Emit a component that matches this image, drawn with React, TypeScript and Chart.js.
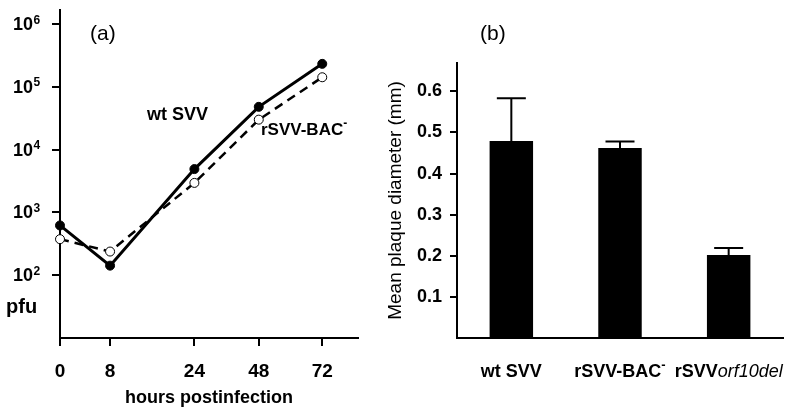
import React, { useEffect, useRef } from 'react';
import { Chart, registerables } from 'chart.js';

Chart.register(...registerables);

// ---------- data ----------
const hours = [0, 8, 24, 48, 72];
const wtSVV = [620, 142, 4900, 48000, 232000];
const rSVVBAC = [375, 238, 2950, 30000, 142000];
const decadeTicks = [1e2, 1e3, 1e4, 1e5, 1e6];

const strains = ['wt SVV', 'rSVV-BAC-', 'rSVVorf10del'];
const plaqueMean = [0.479, 0.462, 0.202];
const plaqueErr = [0.104, 0.016, 0.017];
const plaqueTicks = [0.1, 0.2, 0.3, 0.4, 0.5, 0.6];

// ---------- styling ----------
const FONT = '"Liberation Sans", Arial, Helvetica, sans-serif';

// The original figure spaces its time axis unevenly; these stops describe that axis warp.
const HOUR_STOPS = [0, 8, 24, 48, 72, 85.5];
const AXIS_STOPS = [0, 0.168, 0.451, 0.667, 0.88, 1];

function warpHours(h: number): number {
  for (let i = 0; i < HOUR_STOPS.length - 1; i++) {
    const a = HOUR_STOPS[i];
    const b = HOUR_STOPS[i + 1];
    if (h <= b || i === HOUR_STOPS.length - 2) {
      const t = (h - a) / (b - a);
      return AXIS_STOPS[i] + t * (AXIS_STOPS[i + 1] - AXIS_STOPS[i]);
    }
  }
  return 0;
}

type Part = { text: string; style: 'bold' | 'italic' | 'normal' | 'sup' };

const strainLabelParts: Part[][] = [
  [{ text: 'wt SVV', style: 'bold' }],
  [
    { text: 'rSVV-BAC', style: 'bold' },
    { text: '-', style: 'sup' },
  ],
  [
    { text: 'rSVV', style: 'bold' },
    { text: 'orf10del', style: 'italic' },
  ],
];

function partFont(style: Part['style'], size: number) {
  if (style === 'bold') return `bold ${size}px ${FONT}`;
  if (style === 'italic') return `italic ${size}px ${FONT}`;
  if (style === 'normal') return `${size}px ${FONT}`;
  return `bold ${Math.round(size * 0.7)}px ${FONT}`;
}

function drawParts(
  ctx: CanvasRenderingContext2D,
  parts: Part[],
  x: number,
  y: number,
  size: number,
  align: 'left' | 'center'
) {
  ctx.save();
  ctx.textBaseline = 'alphabetic';
  ctx.textAlign = 'left';
  ctx.fillStyle = '#000';
  const widths = parts.map((p) => {
    ctx.font = partFont(p.style, size);
    return ctx.measureText(p.text).width;
  });
  const total = widths.reduce((a, b) => a + b, 0);
  let cx = align === 'center' ? x - total / 2 : x;
  parts.forEach((p, i) => {
    ctx.font = partFont(p.style, size);
    ctx.fillText(p.text, cx, p.style === 'sup' ? y - size * 0.45 : y);
    cx += widths[i];
  });
  ctx.restore();
}

export default function App() {
  const refA = useRef<HTMLCanvasElement | null>(null);
  const refB = useRef<HTMLCanvasElement | null>(null);

  useEffect(() => {
    const canvasA = refA.current!;
    const canvasB = refB.current!;

    // ---------- panel (a) ----------
    const panelALabels = {
      id: 'panelALabels',
      afterDraw(chart: any) {
        const ctx: CanvasRenderingContext2D = chart.ctx;
        const y = chart.scales.y;
        ctx.save();
        ctx.fillStyle = '#000';
        decadeTicks.forEach((v) => {
          const py = y.getPixelForValue(v);
          const exp = Math.round(Math.log10(v));
          ctx.font = `bold 18px ${FONT}`;
          ctx.textAlign = 'right';
          ctx.textBaseline = 'alphabetic';
          ctx.fillText('10', 33, py + 6);
          ctx.font = `bold 12px ${FONT}`;
          ctx.textAlign = 'left';
          ctx.fillText(String(exp), 33.5, py - 0.5);
        });
        ctx.font = `bold 20px ${FONT}`;
        ctx.textAlign = 'left';
        ctx.fillText('pfu', 6, 313);
        ctx.font = `21px ${FONT}`;
        ctx.fillText('(a)', 90, 39.5);
        ctx.restore();
        drawParts(ctx, [{ text: 'wt SVV', style: 'bold' }], 147, 119.5, 18, 'left');
        drawParts(ctx, strainLabelParts[1], 261, 135, 17, 'left');
      },
    };

    const chartA = new Chart(canvasA, {
      type: 'line',
      data: {
        datasets: [
          {
            label: 'wt SVV',
            data: hours.map((h, i) => ({ x: h, y: wtSVV[i] })),
            borderColor: '#000',
            borderWidth: 3,
            pointRadius: 4.5,
            pointBackgroundColor: '#000',
            pointBorderColor: '#000',
            pointBorderWidth: 1,
            tension: 0,
            clip: false as any,
          },
          {
            label: 'rSVV-BAC-',
            data: hours.map((h, i) => ({ x: h, y: rSVVBAC[i] })),
            borderColor: '#000',
            borderWidth: 2.5,
            borderDash: [9, 6],
            pointRadius: 4.5,
            pointBackgroundColor: '#fff',
            pointBorderColor: '#000',
            pointBorderWidth: 1,
            tension: 0,
            clip: false as any,
          },
        ],
      },
      options: {
        animation: false,
        responsive: false,
        maintainAspectRatio: false,
        events: [],
        layout: { padding: { left: 0, right: 22, top: 6, bottom: 0 } },
        plugins: { legend: { display: false }, tooltip: { enabled: false } },
        scales: {
          x: {
            type: 'linear',
            min: 0,
            max: HOUR_STOPS[HOUR_STOPS.length - 1],
            border: { display: true, color: '#000', width: 2 },
            grid: {
              display: true,
              drawOnChartArea: false,
              drawTicks: true,
              tickLength: 8,
              color: '#000',
              lineWidth: 2,
            },
            ticks: {
              autoSkip: false,
              color: '#000',
              padding: 14,
              maxRotation: 0,
              font: { family: FONT, size: 19, weight: 'bold' },
              callback: (v: any) => String(v),
            },
            title: {
              display: true,
              text: 'hours postinfection',
              color: '#000',
              font: { family: FONT, size: 18, weight: 'bold' },
              padding: { top: 0, bottom: 6 },
            },
            afterBuildTicks: (s: any) => {
              s.ticks = hours.map((v) => ({ value: v }));
              s.getPixelForValue = (v: number) => s.getPixelForDecimal(warpHours(v));
            },
            afterFit: (s: any) => {
              s.height = 77;
            },
          } as any,
          y: {
            type: 'logarithmic',
            min: 10,
            max: 1.66e6,
            border: { display: true, color: '#000', width: 2 },
            grid: {
              display: true,
              drawOnChartArea: false,
              drawTicks: true,
              tickLength: 8,
              color: '#000',
              lineWidth: 2,
            },
            ticks: { autoSkip: false, callback: () => '' },
            afterBuildTicks: (s: any) => {
              s.ticks = decadeTicks.map((v) => ({ value: v }));
            },
            afterFit: (s: any) => {
              s.width = 60;
            },
          } as any,
        },
      },
      plugins: [panelALabels],
    });

    // ---------- panel (b) ----------
    const panelBExtras = {
      id: 'panelBExtras',
      afterDatasetsDraw(chart: any) {
        const ctx: CanvasRenderingContext2D = chart.ctx;
        const xs = chart.scales.x;
        const ys = chart.scales.y;
        ctx.save();
        ctx.strokeStyle = '#000';
        ctx.lineWidth = 2;
        plaqueMean.forEach((m, i) => {
          const px = xs.getPixelForValue(i);
          const yb = ys.getPixelForValue(m);
          const yt = ys.getPixelForValue(m + plaqueErr[i]);
          ctx.beginPath();
          ctx.moveTo(px, yb);
          ctx.lineTo(px, yt);
          ctx.moveTo(px - 14.5, yt);
          ctx.lineTo(px + 14.5, yt);
          ctx.stroke();
        });
        ctx.restore();
      },
      afterDraw(chart: any) {
        const ctx: CanvasRenderingContext2D = chart.ctx;
        const xs = chart.scales.x;
        strains.forEach((_, i) => {
          drawParts(ctx, strainLabelParts[i], xs.getPixelForValue(i), 377, 18, 'center');
        });
        ctx.save();
        ctx.fillStyle = '#000';
        ctx.font = `21px ${FONT}`;
        ctx.textAlign = 'left';
        ctx.textBaseline = 'alphabetic';
        ctx.fillText('(b)', 100, 39.5);
        ctx.restore();
      },
    };

    const chartB = new Chart(canvasB, {
      type: 'bar',
      data: {
        labels: strains,
        datasets: [
          {
            data: plaqueMean,
            backgroundColor: '#000',
            borderWidth: 0,
            barPercentage: 0.4,
            categoryPercentage: 1,
          },
        ],
      },
      options: {
        animation: false,
        responsive: false,
        maintainAspectRatio: false,
        events: [],
        layout: { padding: { left: 0, right: 17, top: 63, bottom: 0 } },
        plugins: { legend: { display: false }, tooltip: { enabled: false } },
        scales: {
          x: {
            type: 'category',
            offset: true,
            border: { display: true, color: '#000', width: 2 },
            grid: { display: false },
            ticks: { display: false },
            afterFit: (s: any) => {
              s.height = 77;
            },
          } as any,
          y: {
            type: 'linear',
            min: 0,
            max: 0.669,
            border: { display: true, color: '#000', width: 2 },
            grid: {
              display: true,
              drawOnChartArea: false,
              drawTicks: true,
              tickLength: 7,
              color: '#000',
              lineWidth: 2,
            },
            ticks: {
              autoSkip: false,
              color: '#000',
              padding: 8,
              font: { family: FONT, size: 18, weight: 'bold' },
              callback: (v: any) => Number(v).toFixed(1),
            },
            title: {
              display: true,
              text: 'Mean plaque diameter (mm)',
              color: '#000',
              font: { family: FONT, size: 19 },
              padding: { top: 4, bottom: 0 },
            },
            afterBuildTicks: (s: any) => {
              s.ticks = plaqueTicks.map((v) => ({ value: v }));
            },
            afterFit: (s: any) => {
              s.width = 77;
            },
          } as any,
        },
      },
      plugins: [panelBExtras],
    });

    return () => {
      chartA.destroy();
      chartB.destroy();
    };
  }, []);

  return (
    <div
      style={{
        position: 'absolute',
        left: 0,
        top: 0,
        width: 800,
        height: 415,
        background: '#fff',
        overflow: 'hidden',
      }}
    >
      <canvas
        ref={refA}
        width={380}
        height={415}
        style={{ position: 'absolute', left: 0, top: 0, width: 380, height: 415 }}
      />
      <canvas
        ref={refB}
        width={420}
        height={415}
        style={{ position: 'absolute', left: 380, top: 0, width: 420, height: 415 }}
      />
    </div>
  );
}
